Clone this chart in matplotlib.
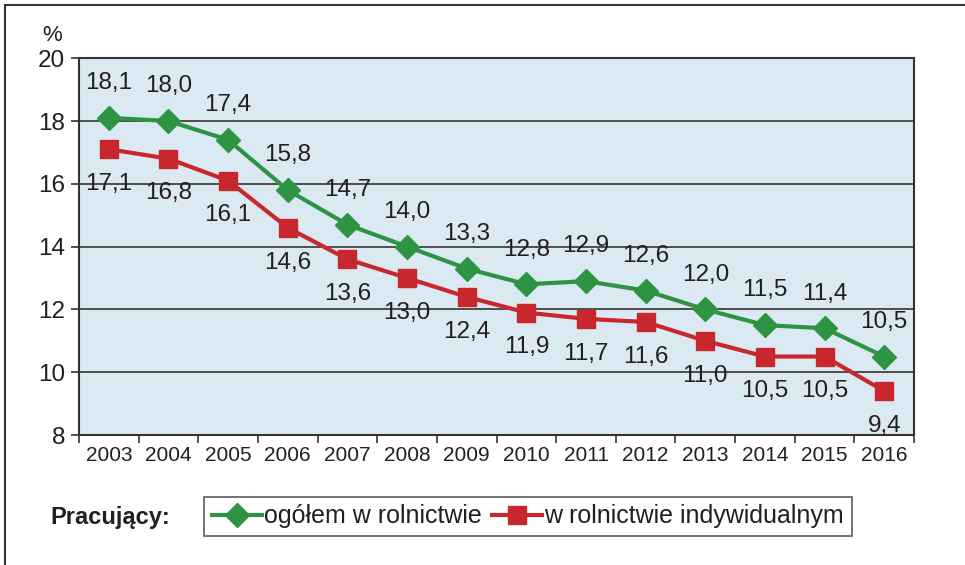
import matplotlib.pyplot as plt
from matplotlib.patches import Rectangle

plt.rcParams['font.family'] = ['Liberation Sans', 'DejaVu Sans']

years = ['2003', '2004', '2005', '2006', '2007', '2008', '2009',
         '2010', '2011', '2012', '2013', '2014', '2015', '2016']
ogolem = [18.1, 18.0, 17.4, 15.8, 14.7, 14.0, 13.3, 12.8, 12.9, 12.6, 12.0, 11.5, 11.4, 10.5]
indyw = [17.1, 16.8, 16.1, 14.6, 13.6, 13.0, 12.4, 11.9, 11.7, 11.6, 11.0, 10.5, 10.5, 9.4]
yticks = [8, 10, 12, 14, 16, 18, 20]

green = '#2e9444'
red = '#c8282d'
txt = '#231f20'

fig = plt.figure(figsize=(9.65, 5.65), dpi=100)
ax = fig.add_axes([0.0819, 0.230, 0.8653, 0.667])
ax.set_facecolor('#dbeaf2')

x = list(range(len(years)))
ax.plot(x, ogolem, color=green, lw=3, marker='D', ms=12, zorder=4,
        label='ogółem w rolnictwie')
ax.plot(x, indyw, color=red, lw=3, marker='s', ms=13, zorder=4,
        label='w rolnictwie indywidualnym')

for i in x:
    s1 = f'{ogolem[i]:.1f}'.replace('.', ',')
    s2 = f'{indyw[i]:.1f}'.replace('.', ',')
    ax.annotate(s1, (i, ogolem[i]), xytext=(0, 25), textcoords='offset points',
                ha='center', va='center', fontsize=17.5, color=txt, zorder=5)
    ax.annotate(s2, (i, indyw[i]), xytext=(0, -25), textcoords='offset points',
                ha='center', va='center', fontsize=17.5, color=txt, zorder=5)

ax.set_xlim(-0.5, len(years) - 0.5)
ax.set_ylim(8, 20)
ax.set_yticks(yticks)
ax.set_yticklabels([str(v) for v in yticks], fontsize=17.5, color=txt)
ax.yaxis.grid(True, color='#333333', lw=1.2)
ax.set_axisbelow(True)
ax.set_xticks([i - 0.5 for i in x] + [len(years) - 0.5])
ax.set_xticklabels([''] * (len(years) + 1))
ax.set_xticks(x, minor=True)
ax.set_xticklabels(years, minor=True, fontsize=15, color=txt)
ax.tick_params(axis='x', which='minor', length=0, pad=8)
ax.tick_params(axis='x', which='major', length=6, width=1.2, color='#333333')
ax.tick_params(axis='y', length=6, width=1.2, color='#333333', pad=4)
for sp in ax.spines.values():
    sp.set_color('#333333')
    sp.set_linewidth(1.5)

fig.text(0.044, 0.937, '%', fontsize=16, color=txt, ha='left', va='center')

fig.text(0.052, 0.084, 'Pracujący:', fontsize=17, fontweight='bold',
         color=txt, ha='left', va='center')
leg = fig.legend(loc='center', bbox_to_anchor=(0.547, 0.086), ncol=2,
                 fontsize=18, frameon=True, fancybox=False, edgecolor='#444444',
                 handlelength=2.0, handletextpad=0.1, columnspacing=0.4,
                 borderpad=0.3, borderaxespad=0.0, labelcolor=txt)
leg.get_frame().set_linewidth(1.3)

fig.patches.append(Rectangle((5 / 965, -0.1), 1.0, 1.1 - 5 / 565, transform=fig.transFigure,
                             fill=False, edgecolor='#333333', lw=1.5))

fig.savefig('out.png', dpi=100)
